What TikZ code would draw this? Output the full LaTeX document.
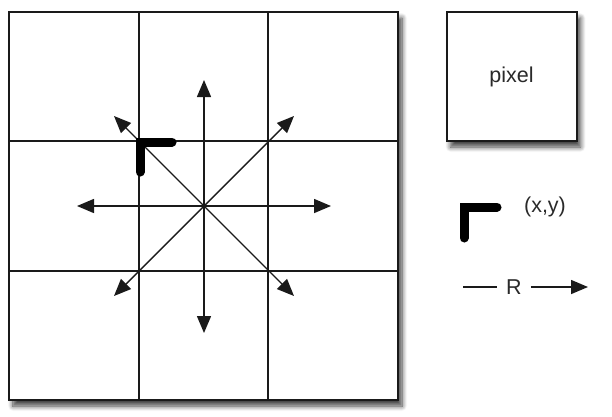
\documentclass[tikz,border=0pt]{standalone}
\usepackage{fontspec}
\setmainfont{Liberation Sans}
\usetikzlibrary{arrows.meta,shadows.blur}
\definecolor{ink}{HTML}{1A1A1A}
\definecolor{txt}{HTML}{2A2A2A}
\tikzset{
  boxstyle/.style={draw=ink, line width=2pt, fill=white, inner sep=0pt,
    blur shadow={shadow xshift=4pt, shadow yshift=-6pt, shadow blur steps=8, shadow blur radius=5pt, shadow opacity=75}},
  gridline/.style={draw=ink, line width=1.5pt},
  dirarrow/.style={draw=ink, line width=1.5pt, -{Triangle[length=17pt,width=14pt]}},
  diagarrow/.style={draw=ink, line width=1.4pt, {Triangle[length=17pt,width=14pt]}-{Triangle[length=17pt,width=14pt]}},
  corner/.style={draw=black, line width=9pt, line cap=round, line join=miter},
  lbl/.style={text=txt, font=\fontsize{21.5}{23}\selectfont, inner sep=0pt}
}
\begin{document}
\begin{tikzpicture}[x=1pt,y=-1pt]
\useasboundingbox (0,0) rectangle (612,416);
% main grid
\node[boxstyle, minimum width=389pt, minimum height=388pt] (grid) at (203.5,206) {};
\coordinate (v1t) at (139,12);  \coordinate (v1b) at (139,400);
\coordinate (v2t) at (268,12);  \coordinate (v2b) at (268,400);
\coordinate (h1l) at (9,141);   \coordinate (h1r) at (398,141);
\coordinate (h2l) at (9,271);   \coordinate (h2r) at (398,271);
\draw[gridline] (v1t) -- (v1b);
\draw[gridline] (v2t) -- (v2b);
\draw[gridline] (h1l) -- (h1r);
\draw[gridline] (h2l) -- (h2r);
% arrows
\coordinate (c) at (204,206);
\coordinate (up) at (204,80);
\coordinate (dn) at (204,333);
\coordinate (lt) at (77,206);
\coordinate (rt) at (331,206);
\coordinate (ul) at (114,116);
\coordinate (ur) at (294,116);
\coordinate (dl) at (114,296);
\coordinate (dr) at (294,296);
\draw[dirarrow] (c) -- (up);
\draw[dirarrow] (c) -- (dn);
\draw[dirarrow] (c) -- (lt);
\draw[dirarrow] (c) -- (rt);
\draw[diagarrow] (ul) -- (dr);
\draw[diagarrow] (dl) -- (ur);
% thick corner
\coordinate (k1) at (172,142);
\coordinate (k2) at (140,142);
\coordinate (k3) at (140,172);
\draw[corner] (k1) -- (k2) -- (k3);
% pixel box
\node[boxstyle, minimum width=130pt, minimum height=129pt] (pix) at (511.5,76.5) {};
\node[lbl] (pixlbl) at (pix.center) {pixel};
% legend corner
\coordinate (m1) at (497,207);
\coordinate (m2) at (464,207);
\coordinate (m3) at (464,238);
\draw[corner] (m1) -- (m2) -- (m3);
\node[lbl] (xy) at (545,207) {(x,y)};
% R
\node[lbl] (R) at (514,287) {R};
\coordinate (ra) at (463,287);
\coordinate (rb) at (588,287);
\draw[draw=ink, line width=1.5pt] (ra) -- ([xshift=-9pt]R.west);
\draw[dirarrow] ([xshift=9pt]R.east) -- (rb);
\end{tikzpicture}
\end{document}
